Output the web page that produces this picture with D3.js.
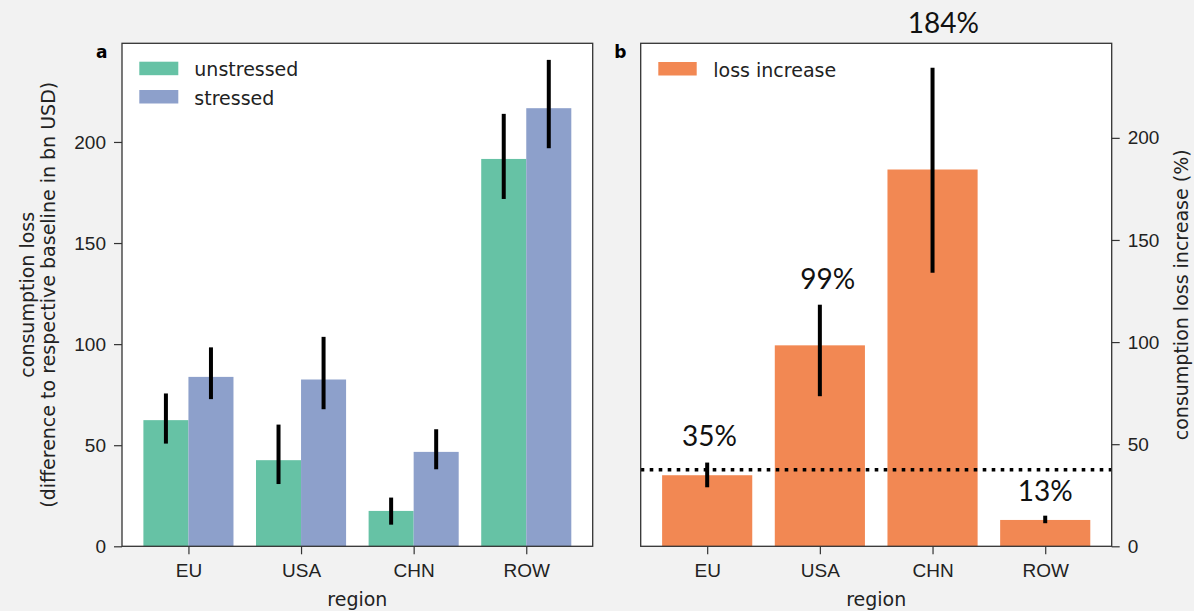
<!DOCTYPE html>
<html>
<head>
<meta charset="utf-8">
<script src="https://cdn.jsdelivr.net/npm/d3@7"></script>
<style>
  body { margin: 0; background: #f2f2f2; }
  svg { display: block; font-family: "DejaVu Sans", sans-serif; }
  .tick text { font-size: 19px; fill: #222; }
  .tick line { stroke: #333; stroke-width: 1.2; }
</style>
</head>
<body>
<div class="graph"></div>
<script>
// regions and values
var regions = ['EU', 'USA', 'CHN', 'ROW'];

// panel a: consumption loss (bn USD)
var unstressed   = [62.4, 42.6, 17.5, 191.6];
var unstressedLo = [50.8, 30.8, 10.7, 171.8];
var unstressedHi = [75.6, 60.2, 24.1, 213.9];
var stressed     = [83.8, 82.5, 46.7, 216.7];
var stressedLo   = [72.8, 67.8, 38.1, 196.9];
var stressedHi   = [98.4, 103.6, 57.9, 240.6];

// panel b: loss increase (%)
var increase     = [34.8, 98.4, 184.5, 12.9];
var increaseLo   = [28.9, 73.5, 134.0, 11.3];
var increaseHi   = [41.0, 118.3, 234.3, 15.0];
var increaseText = ['35%', '99%', '184%', '13%'];
// where the annotations sit (category position, value)
var increaseTextCat = [0.02, 1.07, 2.095, 3.0];
var increaseTextAt  = [49.0, 126.2, 251.5, 22.1];
var refLevel = 37.5;

var leftTicks  = [0, 50, 100, 150, 200];
var rightTicks = [0, 50, 100, 150, 200];

var colors = {unstressed: '#66c2a5', stressed: '#8da0cb', increase: '#f28853'};

var width = 1194, height = 611;
var plotTop = 43.3, plotBottom = 546.3;

var svg = d3.select('.graph').append('svg')
    .attr('width', width)
    .attr('height', height);

// ---------- panel a ----------
var xa = d3.scaleLinear().domain([-0.59, 3.59]).range([122, 592.7]);
var ya = d3.scaleLinear().domain([0, 248.8]).range([plotBottom, plotTop]);

var ga = svg.append('g');
ga.append('rect')
    .attr('x', xa.range()[0]).attr('y', plotTop)
    .attr('width', xa.range()[1] - xa.range()[0]).attr('height', plotBottom - plotTop)
    .attr('fill', '#fff');

var seriesA = [
  {name: 'unstressed', vals: unstressed, lo: unstressedLo, hi: unstressedHi, off: -0.4},
  {name: 'stressed', vals: stressed, lo: stressedLo, hi: stressedHi, off: 0}
];

seriesA.forEach(function(s) {
  ga.selectAll('.bar-' + s.name)
    .data(s.vals)
    .enter().append('rect')
    .attr('class', 'bar-' + s.name)
    .attr('x', function(d, i) { return xa(i + s.off); })
    .attr('width', function(d, i) { return xa(i + s.off + 0.4) - xa(i + s.off); })
    .attr('y', function(d) { return ya(d); })
    .attr('height', function(d) { return ya(0) - ya(d); })
    .attr('fill', colors[s.name]);
});

seriesA.forEach(function(s) {
  ga.selectAll('.err-' + s.name)
    .data(s.vals)
    .enter().append('line')
    .attr('class', 'err-' + s.name)
    .attr('x1', function(d, i) { return xa(i + s.off + 0.2); })
    .attr('x2', function(d, i) { return xa(i + s.off + 0.2); })
    .attr('y1', function(d, i) { return ya(s.lo[i]); })
    .attr('y2', function(d, i) { return ya(s.hi[i]); })
    .attr('stroke', '#000')
    .attr('stroke-width', 4);
});

ga.append('g')
    .attr('transform', 'translate(' + xa.range()[0] + ',0)')
    .call(d3.axisLeft(ya).tickValues(leftTicks).tickSize(8).tickPadding(8))
    .call(function(g) { g.select('.domain').remove(); });

ga.append('g')
    .attr('transform', 'translate(0,' + plotBottom + ')')
    .call(d3.axisBottom(xa).tickValues([0, 1, 2, 3])
      .tickFormat(function(d) { return regions[d]; }).tickSize(8).tickPadding(9))
    .call(function(g) { g.select('.domain').remove(); });

ga.append('rect')
    .attr('x', xa.range()[0]).attr('y', plotTop)
    .attr('width', xa.range()[1] - xa.range()[0]).attr('height', plotBottom - plotTop)
    .attr('fill', 'none').attr('stroke', '#333').attr('stroke-width', 1.3);

// legend a
var legA = ga.selectAll('.legend-a')
    .data(seriesA)
    .enter().append('g')
    .attr('class', 'legend-a')
    .attr('transform', function(d, i) { return 'translate(139.3,' + (61.7 + i * 28.3) + ')'; });
legA.append('rect').attr('width', 39).attr('height', 13.5)
    .attr('fill', function(d) { return colors[d.name]; });
legA.append('text').attr('x', 55).attr('y', 14.5)
    .style('font-size', '19px').attr('fill', '#222')
    .text(function(d) { return d.name; });

ga.append('text')
    .attr('x', 107.5).attr('y', 58.3)
    .attr('text-anchor', 'end')
    .style('font-size', '17px').style('font-weight', 'bold')
    .text('a');

ga.append('text')
    .attr('x', (xa.range()[0] + xa.range()[1]) / 2).attr('y', 606)
    .attr('text-anchor', 'middle')
    .style('font-size', '19px').attr('fill', '#222')
    .text('region');

var ylab = ga.append('text')
    .attr('transform', 'translate(0,' + ((plotTop + plotBottom) / 2) + ') rotate(-90)')
    .attr('text-anchor', 'middle')
    .style('font-size', '19px').attr('fill', '#222');
ylab.append('tspan').attr('x', 0).attr('y', 33.5).text('consumption loss');
ylab.append('tspan').attr('x', 0).attr('y', 55).text('(difference to respective baseline in bn USD)');

// ---------- panel b ----------
var xb = d3.scaleLinear().domain([-0.59, 3.59]).range([640.7, 1111.7]);
var yb = d3.scaleLinear().domain([0, 246.3]).range([plotBottom, plotTop]);

var gb = svg.append('g');
gb.append('rect')
    .attr('x', xb.range()[0]).attr('y', plotTop)
    .attr('width', xb.range()[1] - xb.range()[0]).attr('height', plotBottom - plotTop)
    .attr('fill', '#fff');

gb.selectAll('.bar-inc')
    .data(increase)
    .enter().append('rect')
    .attr('class', 'bar-inc')
    .attr('x', function(d, i) { return xb(i - 0.4); })
    .attr('width', function(d, i) { return xb(i + 0.4) - xb(i - 0.4); })
    .attr('y', function(d) { return yb(d); })
    .attr('height', function(d) { return yb(0) - yb(d); })
    .attr('fill', colors.increase);

gb.selectAll('.err-inc')
    .data(increase)
    .enter().append('line')
    .attr('class', 'err-inc')
    .attr('x1', function(d, i) { return xb(i); })
    .attr('x2', function(d, i) { return xb(i); })
    .attr('y1', function(d, i) { return yb(increaseLo[i]); })
    .attr('y2', function(d, i) { return yb(increaseHi[i]); })
    .attr('stroke', '#000')
    .attr('stroke-width', 4);

gb.append('line')
    .attr('x1', xb.range()[0]).attr('x2', xb.range()[1])
    .attr('y1', yb(refLevel)).attr('y2', yb(refLevel))
    .attr('stroke', '#000').attr('stroke-width', 3.6)
    .attr('stroke-dasharray', '3.6,5.4');

gb.selectAll('.inc-label')
    .data(increaseText)
    .enter().append('text')
    .attr('class', 'inc-label')
    .attr('x', function(d, i) { return xb(increaseTextCat[i]); })
    .attr('y', function(d, i) { return yb(increaseTextAt[i]); })
    .attr('text-anchor', 'middle')
    .style('font-family', 'Lato, sans-serif')
    .style('font-size', '28px')
    .attr('fill', '#111')
    .text(function(d) { return d; });

gb.append('g')
    .attr('transform', 'translate(' + xb.range()[1] + ',0)')
    .call(d3.axisRight(yb).tickValues(rightTicks).tickSize(8).tickPadding(8))
    .call(function(g) { g.select('.domain').remove(); });

gb.append('g')
    .attr('transform', 'translate(0,' + plotBottom + ')')
    .call(d3.axisBottom(xb).tickValues([0, 1, 2, 3])
      .tickFormat(function(d) { return regions[d]; }).tickSize(8).tickPadding(9))
    .call(function(g) { g.select('.domain').remove(); });

gb.append('rect')
    .attr('x', xb.range()[0]).attr('y', plotTop)
    .attr('width', xb.range()[1] - xb.range()[0]).attr('height', plotBottom - plotTop)
    .attr('fill', 'none').attr('stroke', '#333').attr('stroke-width', 1.3);

var legB = gb.append('g').attr('transform', 'translate(658.3,62)');
legB.append('rect').attr('width', 38.4).attr('height', 13.5).attr('fill', colors.increase);
legB.append('text').attr('x', 55).attr('y', 14.5)
    .style('font-size', '19px').attr('fill', '#222')
    .text('loss increase');

gb.append('text')
    .attr('x', 626.5).attr('y', 58.3)
    .attr('text-anchor', 'end')
    .style('font-size', '17px').style('font-weight', 'bold')
    .text('b');

gb.append('text')
    .attr('x', (xb.range()[0] + xb.range()[1]) / 2).attr('y', 606)
    .attr('text-anchor', 'middle')
    .style('font-size', '19px').attr('fill', '#222')
    .text('region');

gb.append('text')
    .attr('transform', 'translate(1188,' + ((plotTop + plotBottom) / 2) + ') rotate(-90)')
    .attr('text-anchor', 'middle')
    .style('font-size', '19px').attr('fill', '#222')
    .text('consumption loss increase (%)');
</script>
</body>
</html>
